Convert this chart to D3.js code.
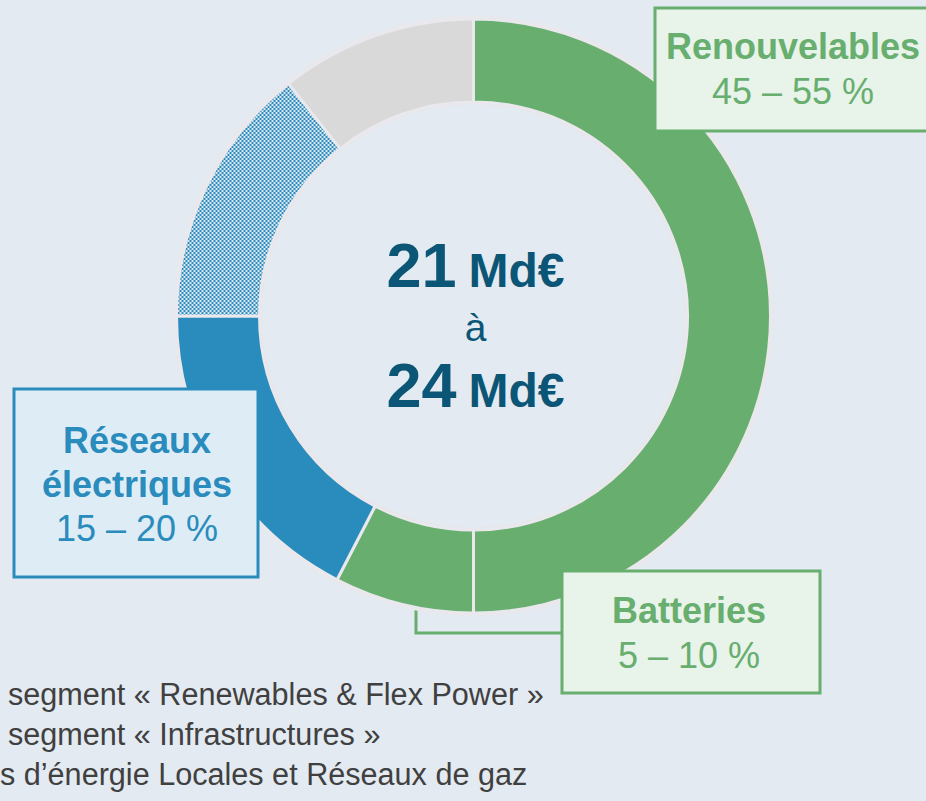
<!DOCTYPE html>
<html>
<head>
<meta charset="utf-8">
<script src="https://cdn.jsdelivr.net/npm/d3@7"></script>
<style>
  html, body { margin: 0; padding: 0; background: #e3eaf1; overflow: hidden; }
  svg { display: block; font-family: "Liberation Sans", Arial, sans-serif; }
</style>
</head>
<body>
<svg></svg>
<script>
// Segments of the donut, clockwise from the top
var segments = ["Renouvelables", "Batteries", "Réseaux électriques", "Autres infrastructures", "Autres"]
var shares = [50, 7.6, 17.4, 14.3, 10.7]
var ranges = ["45 – 55 %", "5 – 10 %", "15 – 20 %"]
var totalLow = "21", totalHigh = "24", unit = "Md€"
var legendLines = [
    "segment « Renewables & Flex Power »",
    "segment « Infrastructures »",
    "s d’énergie Locales et Réseaux de gaz"
]

var width = 926,
    height = 801

var green = "#67ae6f", blue = "#2a8bbd", grey = "#d9d9d9", navy = "#0b5677"

var svg = d3.select("svg")
    .attr("width", width)
    .attr("height", height)

// checkered fill for the hatched segment
var pat = svg.append("defs").append("pattern")
    .attr("id", "checker")
    .attr("width", 4).attr("height", 4)
    .attr("patternUnits", "userSpaceOnUse")
pat.append("rect").attr("width", 4).attr("height", 4).attr("fill", "#dfe9f2")
pat.append("rect").attr("width", 2).attr("height", 2).attr("fill", blue)
pat.append("rect").attr("x", 2).attr("y", 2).attr("width", 2).attr("height", 2).attr("fill", blue)

var fills = [green, green, blue, "url(#checker)", grey]

var cx = 473.5, cy = 316

// leader line of the Batteries box (behind the donut)
svg.append("polyline")
    .attr("points", [[416, 560], [416, 633], [562, 633]].join(" "))
    .attr("fill", "none")
    .attr("stroke", green)
    .attr("stroke-width", 3)

var pie = d3.pie().sort(null).value(function(d) { return d })
var arc = d3.arc().innerRadius(214).outerRadius(297)

var donut = svg.append("g")
    .attr("transform", "translate(" + cx + "," + cy + ")")

// soft halo around the ring
donut.append("circle").attr("r", 298).attr("fill", "none")
    .attr("stroke", "#e8e8ed").attr("stroke-width", 4)
donut.append("circle").attr("r", 213).attr("fill", "none")
    .attr("stroke", "#e6e6eb").attr("stroke-width", 3)

donut.selectAll("path")
    .data(pie(shares))
    .enter()
    .append("path")
    .attr("d", arc)
    .attr("fill", function(d, i) { return fills[i] })
    .attr("stroke", "#e8e8ed")
    .attr("stroke-width", 3)

// centre text
function totalLine(num, y) {
    var t = svg.append("text")
        .attr("x", cx + 2).attr("y", y)
        .attr("text-anchor", "middle")
        .attr("fill", navy)
        .attr("font-weight", "bold")
    t.append("tspan").attr("font-size", 63).text(num)
    t.append("tspan").attr("font-size", 48).attr("dx", 12).text(unit)
}
totalLine(totalLow, 287)
svg.append("text")
    .attr("x", cx + 2).attr("y", 341)
    .attr("text-anchor", "middle")
    .attr("fill", navy)
    .attr("font-size", 39)
    .text("à")
totalLine(totalHigh, 407)

// label boxes
function box(x, y, w, h, col, bg, lines, tx, baselines) {
    svg.append("rect")
        .attr("x", x).attr("y", y).attr("width", w).attr("height", h)
        .attr("fill", bg).attr("stroke", col).attr("stroke-width", 3)
    lines.forEach(function(l, i) {
        svg.append("text")
            .attr("x", tx).attr("y", baselines[i])
            .attr("text-anchor", "middle")
            .attr("fill", col)
            .attr("font-size", 36)
            .attr("font-weight", l.bold ? "bold" : "normal")
            .text(l.text)
    })
}

box(655, 8, 300, 123, green, "#e8f3ea",
    [{text: segments[0], bold: true}, {text: ranges[0]}], 793, [59, 104])
box(562, 571, 258, 122, green, "#e8f3ea",
    [{text: segments[1], bold: true}, {text: ranges[1]}], 689, [623, 668])
box(14, 389, 244, 188, blue, "#deedf5",
    [{text: "Réseaux", bold: true}, {text: "électriques", bold: true}, {text: ranges[2]}],
    137, [453, 497, 541])

// legend (cut at the left edge)
svg.selectAll(".legend")
    .data(legendLines)
    .enter()
    .append("text")
    .attr("class", "legend")
    .attr("x", function(d, i) { return i < 2 ? 8 : 0 })
    .attr("y", function(d, i) { return 705 + i * 40 })
    .attr("fill", "#404040")
    .attr("font-size", 30.6)
    .text(function(d) { return d })
</script>
</body>
</html>
